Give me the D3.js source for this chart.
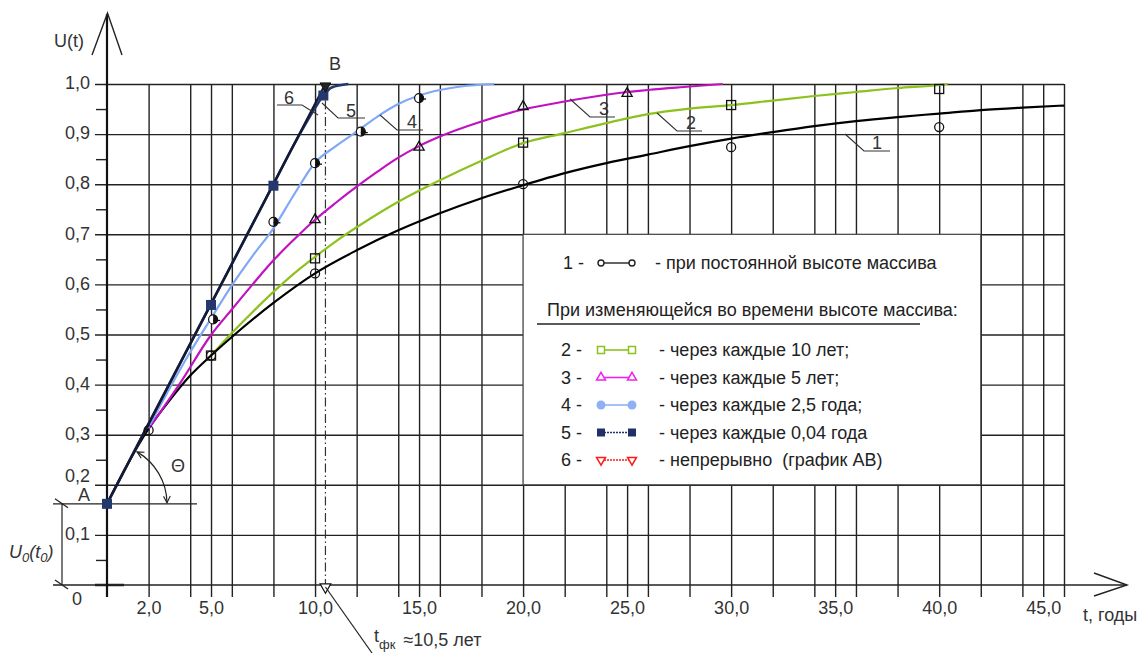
<!DOCTYPE html>
<html>
<head>
<meta charset="utf-8">
<script src="https://cdn.jsdelivr.net/npm/d3@7"></script>
<style>
  body { margin: 0; background: #fff; }
  svg { display: block; font-family: "Liberation Sans", Arial, sans-serif; }
  .lbl { fill: #333; font-size: 18px; }
  .leg { fill: #222; font-size: 18px; }
</style>
</head>
<body>
<div id="chart"></div>
<script>
// grid positions along t (years) and U
var gridT = [2, 4, 5, 6, 8, 10, 12, 14, 15, 16, 18, 20, 22, 24, 25, 26, 28, 30, 32, 34, 35, 36, 38, 40, 42, 44, 45, 46];
var gridU = [0.1, 0.2, 0.3, 0.4, 0.5, 0.6, 0.7, 0.8, 0.9, 1.0];
var minorU = [0.05, 0.25, 0.35, 0.45, 0.55, 0.65, 0.75, 0.85, 0.95];
var labelT = [2, 5, 10, 15, 20, 25, 30, 35, 40, 45];

var U0 = 0.162, tfk = 10.5;

// curves [t, U]
var curve1 = [[0, 0.162], [1, 0.242], [2, 0.312], [3, 0.368], [4, 0.418], [5, 0.458], [6, 0.495], [8, 0.563], [10, 0.622], [12, 0.668], [14, 0.708], [16, 0.742], [18, 0.772], [20, 0.798], [22, 0.822], [24, 0.842], [26, 0.859], [28, 0.876], [30, 0.891], [32, 0.904], [34, 0.916], [36, 0.926], [38, 0.934], [40, 0.941], [42, 0.948], [44, 0.953], [46, 0.957]];
var curve2 = [[5, 0.458], [6, 0.503], [7, 0.545], [8, 0.585], [9, 0.622], [10, 0.655], [11, 0.686], [12, 0.714], [14, 0.765], [16, 0.808], [18, 0.847], [20, 0.882], [22, 0.902], [24, 0.922], [26, 0.94], [28, 0.951], [30, 0.958], [32, 0.967], [34, 0.976], [36, 0.984], [38, 0.992], [40, 0.998], [40.4, 1.0]];
var curve3 = [[2, 0.312], [3.5, 0.402], [5, 0.499], [6, 0.55], [7, 0.6], [8, 0.648], [9, 0.69], [10, 0.729], [11, 0.763], [12, 0.795], [13, 0.825], [14, 0.853], [15, 0.876], [16, 0.895], [18, 0.925], [20, 0.949], [22, 0.965], [25, 0.984], [28, 0.995], [29.6, 1.0]];
var curve4 = [[2, 0.315], [3, 0.392], [4, 0.465], [5, 0.532], [6, 0.598], [7, 0.657], [8, 0.712], [9, 0.78], [10, 0.843], [11, 0.876], [12, 0.905], [13, 0.935], [14, 0.96], [15, 0.977], [16, 0.988], [17, 0.995], [18.6, 1.0]];
var curve5 = [[0, 0.162], [2, 0.322], [5, 0.561], [8, 0.8], [9, 0.88], [10, 0.952], [10.4, 0.977], [10.8, 0.993], [11.6, 1.0]];
var line6 = [[0, 0.162], [10.5, 1.0]];

// measured points
var marks1 = [[2, 0.309], [5, 0.458], [10, 0.622], [20, 0.8], [30, 0.874], [40, 0.914]];
var marks2 = [[5, 0.458], [10, 0.652], [20, 0.883], [30, 0.958], [40, 0.99]];
var marks3 = [[10, 0.729], [15, 0.874], [20, 0.955], [25, 0.981]];
var marks4 = [[5.1, 0.53], [8, 0.725], [10, 0.842], [12.2, 0.905], [15, 0.972]];
var marks5 = [[0, 0.162], [5, 0.559], [8, 0.797], [10.4, 0.977]];

var legendRows = [
  { n: "2 -", text: "- через каждые 10 лет;", color: "#8cc21e", sym: "square", dash: null },
  { n: "3 -", text: "- через каждые 5 лет;", color: "#ee22ee", sym: "triangle", dash: null },
  { n: "4 -", text: "- через каждые 2,5 года;", color: "#8fb0f5", sym: "circle", dash: null },
  { n: "5 -", text: "- через каждые 0,04 года", color: "#1f3268", sym: "squareFill", dash: "2,1" },
  { n: "6 -", text: "- непрерывно\u00a0 (график АВ)", color: "#ff1a1a", sym: "tri-down", dash: "2,1" }
];

var ru = d3.formatLocale({ decimal: ",", thousands: " ", grouping: [3], currency: ["", ""] });
var fmt = ru.format(".1f");

var width = 1142, height = 653;
var x = d3.scaleLinear().domain([0, 46]).range([107, 1064]);
var y = d3.scaleLinear().domain([0, 1]).range([585, 84]);

var svg = d3.select("#chart").append("svg")
  .attr("width", width)
  .attr("height", height);

var gridColor = "#222";

// vertical grid
svg.append("g")
  .attr("transform", "translate(0," + 597 + ")")
  .call(d3.axisBottom(x).tickValues(gridT).tickSize(-(597 - y(1))).tickFormat(""))
  .call(function (g) { g.select(".domain").remove(); })
  .selectAll("line").attr("stroke", gridColor).attr("stroke-width", 1.4);

// horizontal grid with labels
svg.append("g")
  .attr("transform", "translate(95,0)")
  .call(d3.axisLeft(y).tickValues(gridU).tickSize(-(x(46) - 95)).tickPadding(5).tickFormat(fmt))
  .call(function (g) {
    g.select(".domain").remove();
    g.selectAll("line").attr("stroke", gridColor).attr("stroke-width", 1.4);
    g.selectAll("text").attr("class", "lbl").attr("font-size", null).attr("font-family", null).attr("fill", "#333")
      .attr("y", function (d) { return Math.abs(d - 0.2) < 1e-6 ? -9 : -1; });
  });

// minor ticks on U axis
svg.append("g")
  .attr("transform", "translate(" + x(0) + ",0)")
  .call(d3.axisLeft(y).tickValues(minorU).tickSize(11).tickFormat(""))
  .call(function (g) {
    g.select(".domain").remove();
    g.selectAll("line").attr("stroke", gridColor).attr("stroke-width", 1.4);
  });

// t labels
svg.append("g")
  .attr("transform", "translate(0,597)")
  .call(d3.axisBottom(x).tickValues(labelT).tickSize(0).tickPadding(4).tickFormat(fmt))
  .call(function (g) {
    g.select(".domain").remove();
    g.selectAll("text").attr("class", "lbl").attr("font-size", null).attr("font-family", null).attr("fill", "#333");
  });

// x axis with arrow
svg.append("line").attr("x1", 53).attr("x2", 1127).attr("y1", y(0)).attr("y2", y(0))
  .attr("stroke", gridColor).attr("stroke-width", 1.5);
svg.append("path").attr("d", "M1094,573 L1127,585 L1094,596")
  .attr("fill", "none").attr("stroke", gridColor).attr("stroke-width", 1.4);
svg.append("line").attr("x1", 95).attr("x2", 124).attr("y1", y(0)).attr("y2", y(0))
  .attr("stroke", gridColor).attr("stroke-width", 2.5);

// y axis with arrow
svg.append("line").attr("x1", x(0)).attr("x2", x(0)).attr("y1", 14).attr("y2", 597)
  .attr("stroke", "#111").attr("stroke-width", 2.2);
svg.append("path").attr("d", "M92,55 L107.5,13 L122,55")
  .attr("fill", "none").attr("stroke", gridColor).attr("stroke-width", 1.4);

// line through A and U0 dimension
svg.append("line").attr("x1", 53).attr("x2", 197).attr("y1", y(U0)).attr("y2", y(U0))
  .attr("stroke", gridColor).attr("stroke-width", 1.4);
svg.append("line").attr("x1", 62).attr("x2", 62).attr("y1", y(U0)).attr("y2", y(0))
  .attr("stroke", gridColor).attr("stroke-width", 1.2);
[y(U0), y(0)].forEach(function (yy) {
  svg.append("line").attr("x1", 55).attr("x2", 68).attr("y1", yy - 5).attr("y2", yy + 4)
    .attr("stroke", gridColor).attr("stroke-width", 1.3);
});

// legend box
var lx0 = x(20), lx1 = x(42), ly0 = y(0.7), ly1 = y(0.2);
svg.append("rect").attr("x", lx0).attr("y", ly0).attr("width", lx1 - lx0).attr("height", ly1 - ly0)
  .attr("fill", "#fff").attr("stroke", "#444").attr("stroke-width", 1.2);

// tfk dash-dot line
svg.append("line").attr("x1", x(tfk)).attr("x2", x(tfk)).attr("y1", y(1)).attr("y2", y(0))
  .attr("stroke", "#333").attr("stroke-width", 1.2).attr("stroke-dasharray", "9,3,1.5,3");

// curves
var line = d3.line()
  .x(function (d) { return x(d[0]); })
  .y(function (d) { return y(d[1]); })
  .curve(d3.curveMonotoneX);

var curves = [
  { data: curve2, color: "#8cc21e", w: 2.2 },
  { data: curve1, color: "#000", w: 2.2 },
  { data: curve3, color: "#c012c0", w: 2.2 },
  { data: curve4, color: "#80a8f6", w: 2.2 },
  { data: curve5, color: "#24386e", w: 2.6 },
  { data: line6, color: "#141a33", w: 2.4 }
];
svg.selectAll(".curve").data(curves).enter().append("path")
  .attr("class", "curve")
  .attr("d", function (d) { return line(d.data); })
  .attr("fill", "none")
  .attr("stroke", function (d) { return d.color; })
  .attr("stroke-width", function (d) { return d.w; });

// markers
function pos(d) { return "translate(" + x(d[0]) + "," + y(d[1]) + ")"; }

svg.selectAll(".m1").data(marks1).enter().append("circle")
  .attr("cx", function (d) { return x(d[0]); }).attr("cy", function (d) { return y(d[1]); })
  .attr("r", 4.5).attr("fill", "none").attr("stroke", "#111").attr("stroke-width", 1.3);

svg.selectAll(".m2").data(marks2).enter().append("rect")
  .attr("x", function (d) { return x(d[0]) - 4.5; }).attr("y", function (d) { return y(d[1]) - 4.5; })
  .attr("width", 9).attr("height", 9).attr("fill", "none").attr("stroke", "#111").attr("stroke-width", 1.3);

svg.selectAll(".m3").data(marks3).enter().append("path")
  .attr("transform", pos)
  .attr("d", d3.symbol(d3.symbolTriangle, 45))
  .attr("fill", "none").attr("stroke", "#111").attr("stroke-width", 1.3);

var m4 = svg.selectAll(".m4").data(marks4).enter().append("g").attr("transform", pos);
m4.append("circle").attr("r", 4.5).attr("fill", "#fff").attr("stroke", "#111").attr("stroke-width", 1.2);
m4.append("path").attr("d", "M0,-4.5 A4.5,4.5 0 0,1 0,4.5 Z").attr("fill", "#111");
m4.append("line").attr("x1", 0).attr("x2", 7).attr("y1", 1).attr("y2", 1).attr("stroke", "#111").attr("stroke-width", 1.3);

svg.selectAll(".m5").data(marks5).enter().append("rect")
  .attr("x", function (d) { return x(d[0]) - 5; }).attr("y", function (d) { return y(d[1]) - 5; })
  .attr("width", 10).attr("height", 10).attr("fill", "#24386e");

// B and tfk triangles
svg.append("path").attr("transform", "translate(" + x(tfk) + "," + (y(1) + 2) + ") rotate(180)")
  .attr("d", d3.symbol(d3.symbolTriangle, 50)).attr("fill", "#222").attr("stroke", "#111");
svg.append("path").attr("transform", "translate(" + x(tfk) + "," + (y(0) + 2) + ") rotate(180)")
  .attr("d", d3.symbol(d3.symbolTriangle, 50)).attr("fill", "#fff").attr("stroke", "#111").attr("stroke-width", 1.2);
svg.append("line").attr("x1", x(tfk)).attr("y1", y(0) + 2).attr("x2", 372).attr("y2", 653)
  .attr("stroke", "#222").attr("stroke-width", 1.2);

// curve number leaders
var leaders = [
  { n: "6", pts: [[277, 105], [302, 105], [318, 115]], tx: 289, ty: 104 },
  { n: "5", pts: [[322, 103], [338, 118], [365, 118]], tx: 351, ty: 117 },
  { n: "4", pts: [[380, 115], [397, 130], [423, 130]], tx: 412, ty: 128 },
  { n: "3", pts: [[570, 99], [590, 117], [615, 117]], tx: 604, ty: 115 },
  { n: "2", pts: [[657, 113], [677, 131], [702, 131]], tx: 691, ty: 129 },
  { n: "1", pts: [[845, 134], [864, 151], [890, 151]], tx: 877, ty: 149 }
];
leaders.forEach(function (l) {
  svg.append("path").attr("d", d3.line()(l.pts)).attr("fill", "none")
    .attr("stroke", "#333").attr("stroke-width", 1.1);
  svg.append("text").attr("class", "lbl").attr("x", l.tx).attr("y", l.ty)
    .attr("text-anchor", "middle").attr("font-size", 19).text(l.n);
});

// angle theta
svg.append("defs").append("marker")
  .attr("id", "arr").attr("viewBox", "0 0 10 10").attr("refX", 9).attr("refY", 5)
  .attr("markerWidth", 7).attr("markerHeight", 7).attr("orient", "auto-start-reverse")
  .append("path").attr("d", "M1,1 L9,5 L1,9").attr("fill", "none").attr("stroke", "#222").attr("stroke-width", 1.3);
var cx = x(0), cy = y(U0), r = 60, a1 = 60 * Math.PI / 180;
svg.append("path")
  .attr("d", "M" + (cx + r * Math.cos(a1)) + "," + (cy - r * Math.sin(a1)) + " A" + r + "," + r + " 0 0,1 " + (cx + r) + "," + (cy - 1))
  .attr("fill", "none").attr("stroke", "#222").attr("stroke-width", 1.2)
  .attr("marker-start", "url(#arr)").attr("marker-end", "url(#arr)");
svg.append("text").attr("class", "lbl").attr("x", 178).attr("y", 472).attr("text-anchor", "middle").text("Θ");

// text labels
svg.append("text").attr("class", "lbl").attr("x", 54).attr("y", 47).text("U(t)");
svg.append("text").attr("class", "lbl").attr("x", 335).attr("y", 70).attr("text-anchor", "middle").text("B");
svg.append("text").attr("class", "lbl").attr("x", 84).attr("y", 501).attr("text-anchor", "middle").text("A");
svg.append("text").attr("class", "lbl").attr("x", 77).attr("y", 605).attr("text-anchor", "middle").text("0");
svg.append("text").attr("class", "lbl").attr("x", 1083).attr("y", 621).text("t, годы");

var u0t = svg.append("text").attr("class", "lbl").attr("x", 9).attr("y", 558).attr("font-style", "italic");
u0t.append("tspan").text("U");
u0t.append("tspan").attr("dy", 4).attr("font-size", 13).text("0");
u0t.append("tspan").attr("dy", -4).text("(t");
u0t.append("tspan").attr("dy", 4).attr("font-size", 13).text("0");
u0t.append("tspan").attr("dy", -4).text(")");

var tf = svg.append("text").attr("class", "lbl").attr("x", 374).attr("y", 642);
tf.append("tspan").text("t");
tf.append("tspan").attr("dy", 7).attr("font-size", 13).text("фк");
tf.append("tspan").attr("dy", -3).attr("dx", 8).text("≈10,5 лет");

// legend content
var sx0 = 601, sx1 = 632;
svg.append("text").attr("class", "leg").attr("x", 563).attr("y", 269).text("1 -");
svg.append("line").attr("x1", sx0).attr("x2", sx1).attr("y1", 263).attr("y2", 263).attr("stroke", "#222").attr("stroke-width", 1.4);
[sx0, sx1].forEach(function (sx) {
  svg.append("circle").attr("cx", sx).attr("cy", 263).attr("r", 3).attr("fill", "#fff").attr("stroke", "#222").attr("stroke-width", 1.4);
});
svg.append("text").attr("class", "leg").attr("x", 655).attr("y", 269).text("- при постоянной высоте массива");
svg.append("text").attr("class", "leg").attr("x", 547).attr("y", 316).text("При изменяющейся во времени высоте массива:");
svg.append("line").attr("x1", 537).attr("x2", 920).attr("y1", 324).attr("y2", 324).attr("stroke", "#222").attr("stroke-width", 1.3);

var rowY = d3.scalePoint().domain(legendRows.map(function (d) { return d.n; })).range([350, 460]);
legendRows.forEach(function (d) {
  var yy = rowY(d.n);
  svg.append("text").attr("class", "leg").attr("x", 561).attr("y", yy + 6).text(d.n);
  svg.append("line").attr("x1", sx0).attr("x2", sx1).attr("y1", yy).attr("y2", yy)
    .attr("stroke", d.color).attr("stroke-width", 1.6).attr("stroke-dasharray", d.dash);
  [sx0, sx1].forEach(function (sx) {
    var g = svg.append("g").attr("transform", "translate(" + sx + "," + yy + ")");
    if (d.sym === "square") {
      g.append("rect").attr("x", -3.5).attr("y", -3.5).attr("width", 7).attr("height", 7)
        .attr("fill", "#fff").attr("stroke", d.color).attr("stroke-width", 1.5);
    } else if (d.sym === "triangle") {
      g.append("path").attr("d", d3.symbol(d3.symbolTriangle, 35)).attr("fill", "#fff").attr("stroke", d.color).attr("stroke-width", 1.5);
    } else if (d.sym === "circle") {
      g.append("circle").attr("r", 4.5).attr("fill", d.color);
    } else if (d.sym === "squareFill") {
      g.append("rect").attr("x", -4).attr("y", -4).attr("width", 8).attr("height", 8).attr("fill", d.color);
    } else {
      g.append("path").attr("transform", "rotate(180)").attr("d", d3.symbol(d3.symbolTriangle, 35))
        .attr("fill", "#fff").attr("stroke", d.color).attr("stroke-width", 1.5);
    }
  });
  svg.append("text").attr("class", "leg").attr("x", 659).attr("y", yy + 6).text(d.text);
});
</script>
</body>
</html>
